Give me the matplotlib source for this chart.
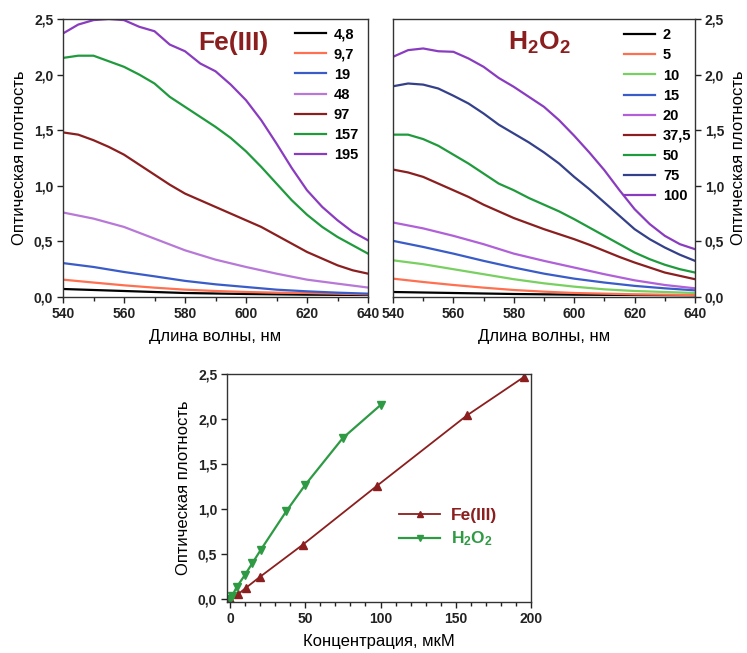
import matplotlib
matplotlib.use("Agg")
import matplotlib.pyplot as plt
from matplotlib.ticker import MultipleLocator, FuncFormatter

plt.rcParams['font.family'] = ['Liberation Sans', 'DejaVu Sans']
plt.rcParams['mathtext.fontset'] = 'custom'
plt.rcParams['mathtext.rm'] = 'Liberation Sans'
plt.rcParams['mathtext.bf'] = 'Liberation Sans:bold'
plt.rcParams['lines.solid_joinstyle'] = 'round'

# ---------------- data ----------------
wl_fe = [540, 545, 550, 555, 560, 565, 570, 575, 580, 585, 590, 595, 600, 605, 610, 615, 620, 625, 630, 635, 640]
fe_labels = ["4,8", "9,7", "19", "48", "97", "157", "195"]
fe_colors = ["#000000", "#ff7050", "#3a5cc8", "#b878d8", "#8b1e1e", "#1f9a3c", "#8a3cc0"]
fe_195 = [2.37, 2.45, 2.49, 2.50, 2.49, 2.43, 2.39, 2.27, 2.21, 2.10, 2.03, 1.91, 1.77, 1.59, 1.38, 1.16, 0.96, 0.81, 0.69, 0.585, 0.51]
fe_157 = [2.15, 2.17, 2.17, 2.12, 2.07, 2.00, 1.92, 1.80, 1.71, 1.62, 1.53, 1.43, 1.31, 1.17, 1.02, 0.87, 0.74, 0.63, 0.54, 0.465, 0.39]
fe_97 = [1.48, 1.46, 1.41, 1.35, 1.28, 1.19, 1.10, 1.01, 0.93, 0.87, 0.81, 0.75, 0.69, 0.63, 0.555, 0.48, 0.405, 0.345, 0.285, 0.24, 0.21]
wl10 = [540, 550, 560, 570, 580, 590, 600, 610, 620, 630, 640]
fe_48 = [0.76, 0.705, 0.63, 0.525, 0.42, 0.336, 0.27, 0.21, 0.156, 0.12, 0.085]
fe_19 = [0.305, 0.27, 0.225, 0.186, 0.145, 0.114, 0.09, 0.066, 0.051, 0.039, 0.03]
fe_9_7 = [0.156, 0.13, 0.105, 0.084, 0.066, 0.054, 0.045, 0.039, 0.036, 0.03, 0.024]
wl20 = [540, 560, 580, 600, 620, 640]
fe_4_8 = [0.072, 0.054, 0.036, 0.027, 0.021, 0.018]

h_labels = ["2", "5", "10", "15", "20", "37,5", "50", "75", "100"]
h_colors = ["#000000", "#ff7050", "#78d060", "#3a5cc8", "#b060d8", "#8b1e1e", "#1f9a3c", "#34408a", "#8a3cc0"]
h_100 = [2.16, 2.22, 2.235, 2.21, 2.205, 2.145, 2.07, 1.97, 1.89, 1.80, 1.71, 1.59, 1.45, 1.30, 1.14, 0.96, 0.79, 0.656, 0.55, 0.475, 0.43]
h_75 = [1.895, 1.92, 1.91, 1.875, 1.81, 1.74, 1.65, 1.55, 1.47, 1.39, 1.30, 1.20, 1.08, 0.97, 0.85, 0.73, 0.61, 0.52, 0.445, 0.38, 0.325]
h_50 = [1.46, 1.46, 1.42, 1.36, 1.28, 1.20, 1.11, 1.02, 0.96, 0.89, 0.83, 0.77, 0.70, 0.625, 0.55, 0.475, 0.40, 0.34, 0.29, 0.25, 0.22]
h_37_5 = [1.146, 1.12, 1.08, 1.02, 0.96, 0.90, 0.83, 0.77, 0.71, 0.66, 0.61, 0.565, 0.52, 0.47, 0.415, 0.36, 0.31, 0.265, 0.22, 0.19, 0.16]
h_20 = [0.67, 0.617, 0.55, 0.475, 0.39, 0.325, 0.265, 0.205, 0.15, 0.108, 0.078]
h_15 = [0.505, 0.45, 0.39, 0.325, 0.265, 0.21, 0.165, 0.13, 0.10, 0.078, 0.06]
h_10 = [0.33, 0.295, 0.25, 0.205, 0.16, 0.123, 0.093, 0.069, 0.054, 0.045, 0.036]
h_5 = [0.165, 0.135, 0.108, 0.084, 0.063, 0.048, 0.036, 0.03, 0.024, 0.021, 0.018]
h_2 = [0.045, 0.036, 0.027, 0.021, 0.018, 0.015]

conc_fe = [0, 5.3, 10.4, 19.6, 48.3, 97.7, 157.4, 195.6]
od_fe = [0.0, 0.055, 0.125, 0.245, 0.605, 1.26, 2.04, 2.47]
conc_h = [0, 1.5, 4.4, 9.7, 14.8, 20.3, 37.3, 50, 75, 100]
od_h = [0.0, 0.04, 0.135, 0.265, 0.40, 0.545, 0.975, 1.27, 1.79, 2.155]

fe_series = [(wl20, fe_4_8), (wl10, fe_9_7), (wl10, fe_19), (wl10, fe_48),
             (wl_fe, fe_97), (wl_fe, fe_157), (wl_fe, fe_195)]
h_series = [(wl20, h_2), (wl10, h_5), (wl10, h_10), (wl10, h_15), (wl10, h_20),
            (wl_fe, h_37_5), (wl_fe, h_50), (wl_fe, h_75), (wl_fe, h_100)]

# ---------------- figure ----------------
W, H = 747, 653
fig = plt.figure(figsize=(W / 100, H / 100), dpi=100)

def ax_px(x0, y0, x1, y1):
    return fig.add_axes([x0 / W, 1 - y1 / H, (x1 - x0) / W, (y1 - y0) / H])

comma = FuncFormatter(lambda v, p: ("%.1f" % v).replace(".", ","))
TICK_FS = 10
LABEL_FS = 12
dark_red = "#8b1e1e"
green2 = "#2e9a44"

def style_common(ax):
    ax.yaxis.set_major_locator(MultipleLocator(0.5))
    ax.yaxis.set_major_formatter(comma)
    ax.tick_params(which='both', direction='out', width=1.0, colors='#222222')
    ax.tick_params(which='major', length=4, pad=3)
    ax.tick_params(which='minor', length=3)
    for lbl in ax.get_xticklabels() + ax.get_yticklabels():
        lbl.set_fontsize(TICK_FS)
        lbl.set_fontweight('bold')
    for s in ax.spines.values():
        s.set_linewidth(1.0)
        s.set_color('#333333')

def style_spec(ax):
    ax.set_xlim(540, 640)
    ax.set_ylim(0, 2.5)
    ax.xaxis.set_major_locator(MultipleLocator(20))
    ax.xaxis.set_minor_locator(MultipleLocator(10))
    style_common(ax)
    ax.set_xlabel("Длина волны, нм", fontsize=LABEL_FS, labelpad=6)

leg_kw = dict(frameon=False, handlelength=2.1, handletextpad=0.55,
              labelspacing=0.42, borderpad=0,
              prop=dict(size=10.5, weight='bold'))

# Left panel Fe(III)
ax1 = ax_px(63, 19, 368, 297)
for (x, y), c, l in zip(fe_series, fe_colors, fe_labels):
    ax1.plot(x, y, color=c, lw=1.6, label=l)
style_spec(ax1)
ax1.set_ylabel("Оптическая плотность", fontsize=LABEL_FS, labelpad=5)
ax1.text(0.56, 0.915, "Fe(III)", transform=ax1.transAxes, color=dark_red,
         fontsize=19, fontweight='bold', ha='center', va='center')
ax1.legend(loc='upper left', bbox_to_anchor=(288 / W, 1 - 20 / H),
           bbox_transform=fig.transFigure, **leg_kw)

# Right panel H2O2
ax2 = ax_px(393, 19, 695, 297)
for (x, y), c, l in zip(h_series, h_colors, h_labels):
    ax2.plot(x, y, color=c, lw=1.6, label=l)
ax2.yaxis.tick_right()
ax2.yaxis.set_label_position('right')
style_spec(ax2)
ax2.set_ylabel("Оптическая плотность", fontsize=LABEL_FS, labelpad=5)
ax2.text(0.485, 0.915, r"$\mathbf{H_2O_2}$", transform=ax2.transAxes,
         color=dark_red, fontsize=19, ha='center', va='center')
ax2.legend(loc='upper left', bbox_to_anchor=(617 / W, 1 - 21 / H),
           bbox_transform=fig.transFigure, **leg_kw)

# Bottom panel
ax3 = ax_px(227, 374, 531, 602)
ax3.plot(conc_fe, od_fe, color=dark_red, lw=1.3, marker='^', ms=6,
         label="Fe(III)")
ax3.plot(conc_h, od_h, color=green2, lw=1.6, marker='v', ms=6,
         label=r"$\mathbf{H_2O_2}$")
ax3.set_xlim(-2, 200)
ax3.set_ylim(-0.03, 2.5)
ax3.xaxis.set_major_locator(MultipleLocator(50))
ax3.xaxis.set_minor_locator(MultipleLocator(10))
style_common(ax3)
ax3.set_xlabel("Концентрация, мкМ", fontsize=LABEL_FS, labelpad=6)
ax3.set_ylabel("Оптическая плотность", fontsize=LABEL_FS, labelpad=5)
leg3 = ax3.legend(loc='upper left', bbox_to_anchor=(390 / W, 1 - 499 / H),
                  bbox_transform=fig.transFigure, frameon=False,
                  handlelength=2.4, handletextpad=0.6, labelspacing=0.4,
                  borderpad=0, markerscale=0.8,
                  prop=dict(size=12.5, weight='bold'))
for txt, c in zip(leg3.get_texts(), [dark_red, green2]):
    txt.set_color(c)

fig.savefig("out.png", dpi=100)
